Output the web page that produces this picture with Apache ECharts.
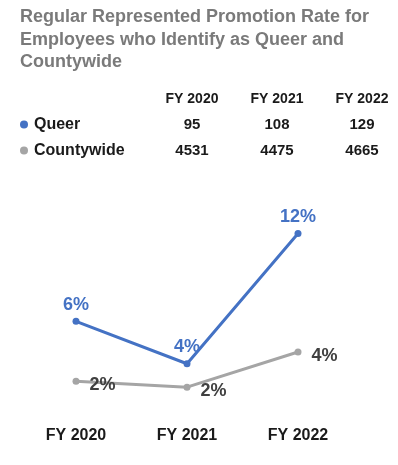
<!DOCTYPE html>
<html><head><meta charset="utf-8">
<script src="https://cdn.jsdelivr.net/npm/echarts@6/dist/echarts.min.js"></script>
<style>html,body{margin:0;padding:0;background:#fff}#c{width:398px;height:465px}</style>
</head><body><div id="c"></div>
<script>
var titleText = 'Regular Represented Promotion Rate for\nEmployees who Identify as Queer and\nCountywide';
var categories = ['FY 2020', 'FY 2021', 'FY 2022'];
var seriesNames = ['Queer', 'Countywide'];
var queerRate = [6.4, 3.5, 12.4];
var countyRate = [2.3, 1.9, 4.3];
var queerCounts = [95, 108, 129];
var countyCounts = [4531, 4475, 4665];

var FONT = '"Liberation Sans", Arial, sans-serif';
var BLUE = '#4472c4', GRAY = '#a5a5a5';
var colX = [192, 277, 362];
var rowY = [124.5, 150.5];

var graphics = [];
categories.forEach(function (c, i) {
  graphics.push({type: 'text', x: colX[i], y: 99, style: {text: c, font: 'bold 14px ' + FONT, fill: '#1a1a1a', align: 'center', verticalAlign: 'middle'}});
});
[queerCounts, countyCounts].forEach(function (arr, r) {
  arr.forEach(function (v, i) {
    graphics.push({type: 'text', x: colX[i], y: rowY[r], style: {text: String(v), font: 'bold 15px ' + FONT, fill: '#1a1a1a', align: 'center', verticalAlign: 'middle'}});
  });
});

var chart = echarts.init(document.getElementById('c'), null, {renderer: 'canvas'});
chart.setOption({
  animation: false,
  backgroundColor: '#fff',
  textStyle: {fontFamily: FONT},
  title: {
    text: titleText, left: 15, top: 1,
    textStyle: {fontFamily: FONT, fontSize: 18, fontWeight: 'bold', color: '#7a7a7a', lineHeight: 22.5}
  },
  legend: {
    data: seriesNames, orient: 'vertical', left: 15, top: 111.5,
    icon: 'circle', itemWidth: 8, itemHeight: 8, itemGap: 10,
    textStyle: {fontFamily: FONT, fontSize: 16, fontWeight: 'bold', color: '#1a1a1a', lineHeight: 16, padding: [0, 0, 0, 1]},
    selectedMode: false
  },
  graphic: graphics,
  grid: {left: 76, right: 100, top: 210, bottom: 50},
  xAxis: {
    type: 'category', data: categories, boundaryGap: false,
    axisLine: {show: false}, axisTick: {show: false}, splitLine: {show: false},
    axisLabel: {margin: 13, fontFamily: FONT, fontSize: 16, fontWeight: 'bold', color: '#1a1a1a'}
  },
  yAxis: {type: 'value', min: 0, max: 14, show: false, splitLine: {show: false}},
  series: [
    {
      name: 'Queer', type: 'line', data: queerRate,
      z: 3, color: BLUE, symbol: 'circle', symbolSize: 7,
      lineStyle: {width: 3, color: BLUE}, itemStyle: {color: BLUE},
      label: {show: true, position: 'top', distance: 4, fontFamily: FONT, fontSize: 18, fontWeight: 'bold', color: BLUE,
        formatter: function (p) { return Math.round(p.value) + '%'; }}
    },
    {
      name: 'Countywide', type: 'line', data: countyRate,
      z: 2, color: GRAY, symbol: 'circle', symbolSize: 7,
      lineStyle: {width: 3, color: GRAY}, itemStyle: {color: GRAY},
      label: {show: true, position: 'right', distance: 10, offset: [0, 4], fontFamily: FONT, fontSize: 18, fontWeight: 'bold', color: '#404040',
        formatter: function (p) { return Math.round(p.value) + '%'; }}
    }
  ]
});
</script></body></html>
